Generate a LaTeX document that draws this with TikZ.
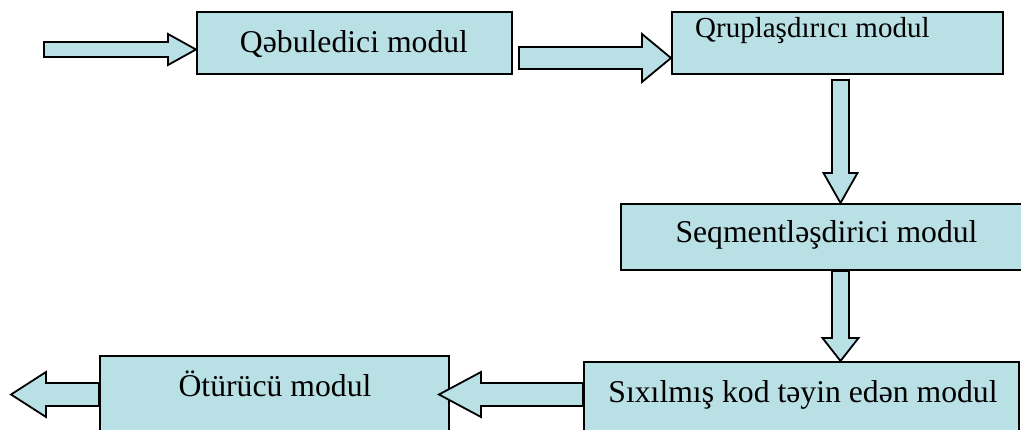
\documentclass[tikz,border=0pt]{standalone}
\usepackage{fontspec}
\setmainfont{Liberation Serif}
\usetikzlibrary{calc}
\definecolor{modfill}{RGB}{185,224,228}
\tikzset{
	modbox/.style={draw=black, line width=2pt, fill=modfill, rectangle, inner sep=0pt},
	modtext/.style={anchor=base, inner sep=0pt, font=\fontsize{31.7}{38}\selectfont},
	fatarrow/.style={draw=black, line width=1.8pt, fill=modfill, line join=miter}
}
% block arrow: from, to, shaft half width, head half width, head length
\newcommand{\blockarrow}[5]{%
	\coordinate (hb) at ($(#2)!#5!(#1)$);
	\draw[fatarrow] ($(#1)!#3!90:(#2)$) -- ($(hb)!#3!90:(#2)$) -- ($(hb)!#4!90:(#2)$)
		-- (#2) -- ($(hb)!#4!-90:(#2)$) -- ($(hb)!#3!-90:(#2)$) -- ($(#1)!#3!-90:(#2)$) -- cycle;
}
\begin{document}
\begin{tikzpicture}[x=1pt, y=-1pt]
			\useasboundingbox (0,0) rectangle (1021,430);
			\clip (0,0) rectangle (1021,430);

			\node[modbox, minimum width=315, minimum height=62] (qebul) at (354.5,43) {};
			\node[modbox, minimum width=331, minimum height=62] (grup) at (837.5,43) {};
			\node[modbox, minimum width=439, minimum height=66] (seq) at (840.5,237) {};
			\node[modbox, minimum width=435, minimum height=118] (sixil) at (801.5,421) {};
			\node[modbox, minimum width=349, minimum height=124] (oturucu) at (274.5,418) {};

			\node[modtext] (qebultxt) at (354,53) {Qəbuledici modul};
			\node[modtext, anchor=base west, font=\fontsize{29}{35}\selectfont] (gruptxt) at (695,38) {Qruplaşdırıcı modul};
			\node[modtext] (seqtxt) at (826.5,243) {Seqmentləşdirici modul};
			\node[modtext] (sixiltxt) at (803,403) {Sıxılmış kod təyin edən modul};
			\node[modtext] (oturucutxt) at (275,397) {Ötürücü modul};

			% arrows
			\coordinate (giris) at (44,49.5);
			\coordinate (t1) at (qebul.west |- giris);
			\blockarrow{giris}{t1}{7.5pt}{15.5pt}{28pt}

			\coordinate (s2) at (519,58);
			\coordinate (t2) at (grup.west |- s2);
			\blockarrow{s2}{t2}{11pt}{24pt}{29pt}

			\coordinate (s3) at (seq.north |- 0,80);
			\blockarrow{s3}{seq.north}{8.5pt}{17pt}{30pt}

			\coordinate (t4) at (sixil.north -| seq.south);
			\blockarrow{seq.south}{t4}{8.5pt}{18pt}{23pt}

			\coordinate (s5) at (sixil.west |- 0,394.5);
			\coordinate (t5) at ($(oturucu.east |- s5)+(-11,0)$);
			\blockarrow{s5}{t5}{11.5pt}{22.5pt}{42pt}

			\coordinate (s6) at (oturucu.west |- s5);
			\coordinate (cixis) at (11,394.5);
			\blockarrow{s6}{cixis}{11.5pt}{22.5pt}{35pt}
		\end{tikzpicture}
\end{document}
